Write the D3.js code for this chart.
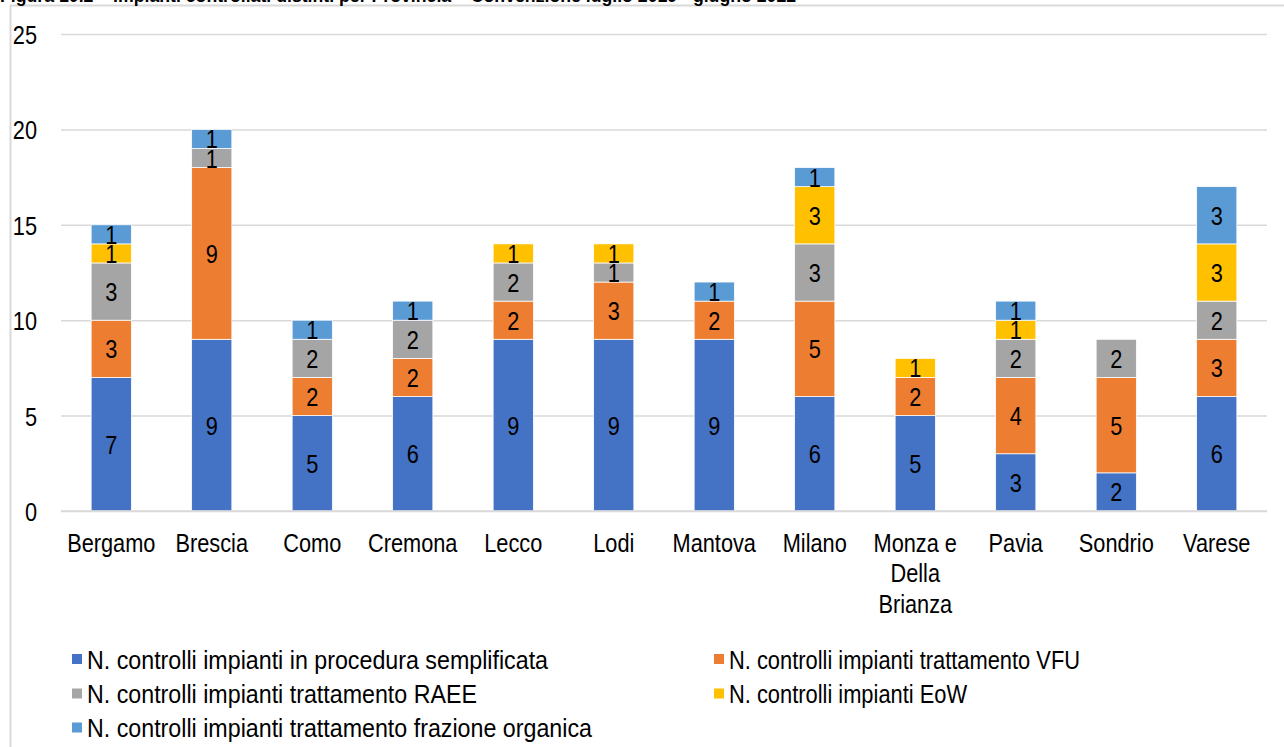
<!DOCTYPE html>
<html>
<head>
<meta charset="utf-8">
<script src="https://cdn.jsdelivr.net/npm/d3@7"></script>
<style>
  html, body { margin: 0; padding: 0; background: #fff; overflow: hidden; }
  svg { display: block; font-family: "Liberation Sans", Arial, sans-serif; }
</style>
</head>
<body>
<svg id="chart" width="1284" height="747"></svg>
<script>
const title = "Figura 10.2 – Impianti controllati distinti per Provincia – Convenzione luglio 2019 - giugno 2022";
const categories = ["Bergamo", "Brescia", "Como", "Cremona", "Lecco", "Lodi", "Mantova", "Milano", "Monza e Della Brianza", "Pavia", "Sondrio", "Varese"];
const seriesNames = [
  "N. controlli impianti in procedura semplificata",
  "N. controlli impianti trattamento VFU",
  "N. controlli impianti trattamento RAEE",
  "N. controlli impianti EoW",
  "N. controlli impianti trattamento frazione organica"
];
const semplificata = [7, 9, 5, 6, 9, 9, 9, 6, 5, 3, 2, 6];
const vfu          = [3, 9, 2, 2, 2, 3, 2, 5, 2, 4, 5, 3];
const raee         = [3, 1, 2, 2, 2, 1, 0, 3, 0, 2, 2, 2];
const eow          = [1, 0, 0, 0, 1, 1, 0, 3, 1, 1, 0, 3];
const organica     = [1, 1, 1, 1, 0, 0, 1, 1, 0, 1, 0, 3];
const seriesValues = [semplificata, vfu, raee, eow, organica];
const seriesColors = ["#4472C4", "#ED7D31", "#A5A5A5", "#FFC000", "#5B9BD5"];
const yTicks = [0, 5, 10, 15, 20, 25];

(function () {
const SX = 0.87;
const FS = 25;
const svg = d3.select("#chart");

// frame
svg.append("line").attr("x1", 10).attr("x2", 1284).attr("y1", 5.5).attr("y2", 5.5)
  .attr("stroke", "#d9d9d9").attr("stroke-width", 2);
svg.append("line").attr("x1", 10.5).attr("x2", 10.5).attr("y1", 5).attr("y2", 747)
  .attr("stroke", "#d9d9d9").attr("stroke-width", 2);

// title (clipped at top, as in the reference)
svg.append("text").attr("x", 0).attr("y", 2)
  .attr("font-size", 17.7).attr("font-weight", "bold").attr("fill", "#000")
  .text(title);

const mLeft = 61, mRight = 1267, mTop = 34, mBottom = 511;
const x = d3.scaleBand().domain(categories).range([mLeft, mRight]).paddingInner(0.6).paddingOuter(0.3);
const y = d3.scaleLinear().domain([0, 25]).range([mBottom, mTop]);

// grid + y axis
const gy = svg.append("g").attr("transform", `translate(${mLeft},0)`)
  .call(d3.axisLeft(y).tickValues(yTicks).tickSize(-(mRight - mLeft)).tickSizeOuter(0));
gy.select(".domain").remove();
gy.selectAll(".tick line").attr("stroke", "#d9d9d9").attr("stroke-width", 1.5);
gy.selectAll(".tick text")
  .attr("x", 0).attr("dy", null)
  .attr("dominant-baseline", "central")
  .attr("text-anchor", "end")
  .attr("font-size", FS).attr("fill", "#000")
  .attr("font-family", "'Liberation Sans', Arial, sans-serif")
  .attr("transform", `translate(-24,1) scale(${SX},1)`);

// stacked data
const rows = categories.map((c, i) => {
  const o = { cat: c };
  seriesValues.forEach((s, k) => o["s" + k] = s[i]);
  return o;
});
const keys = seriesValues.map((_, k) => "s" + k);
const stacked = d3.stack().keys(keys)(rows);

const layers = svg.append("g").selectAll("g").data(stacked).join("g")
  .attr("fill", (d, k) => seriesColors[k]);
layers.selectAll("rect").data(d => d.filter(p => p[1] - p[0] > 0)).join("rect")
  .attr("x", d => x(d.data.cat))
  .attr("width", x.bandwidth())
  .attr("y", d => y(d[1]))
  .attr("height", d => y(d[0]) - y(d[1]))
  .attr("stroke", "#ffffff").attr("stroke-width", 0.75);

// value labels
const lab = svg.append("g");
stacked.forEach((layer, k) => {
  layer.forEach(p => {
    const v = p[1] - p[0];
    if (v <= 0) return;
    lab.append("text")
      .attr("text-anchor", "middle")
      .attr("dominant-baseline", "central")
      .attr("font-size", FS).attr("fill", "#000")
      .attr("transform", `translate(${x(p.data.cat) + x.bandwidth() / 2},${(y(p[0]) + y(p[1])) / 2 + 1}) scale(${SX},1)`)
      .text(v);
  });
});

// x axis labels
const gx = svg.append("g").attr("transform", `translate(0,${mBottom})`)
  .call(d3.axisBottom(x).tickSize(0).tickSizeOuter(0));
gx.select(".domain").remove();
gx.selectAll(".tick text").each(function (d) {
  const t = d3.select(this);
  t.text(null).attr("y", null).attr("dy", null)
    .attr("font-size", FS).attr("fill", "#000")
    .attr("font-family", "'Liberation Sans', Arial, sans-serif")
    .attr("text-anchor", "middle")
    .attr("transform", `translate(0,41) scale(${SX},1)`);
  const words = d.split(" ");
  const maxW = x.step() * 0.92 / SX;
  let lines = [], cur = [];
  const probe = t.append("tspan");
  words.forEach(w => {
    const test = cur.concat([w]).join(" ");
    probe.text(test);
    if (probe.node().getComputedTextLength() > maxW && cur.length) {
      lines.push(cur.join(" "));
      cur = [w];
    } else cur.push(w);
  });
  lines.push(cur.join(" "));
  probe.remove();
  lines.forEach((ln, i) => {
    t.append("tspan").attr("x", 0).attr("y", i * 30.5).text(ln);
  });
});

// baseline axis line
svg.append("line").attr("x1", mLeft).attr("x2", mRight).attr("y1", y(0)).attr("y2", y(0))
  .attr("stroke", "#d9d9d9").attr("stroke-width", 1.5);

// legend
const legPos = [[72, 659, 0.93], [714, 659, 0.875], [72, 693.5, 0.93], [714, 693.5, 0.875], [72, 727.5, 0.93]];
const leg = svg.append("g");
seriesNames.forEach((name, k) => {
  const [lx, ly, s] = legPos[k];
  leg.append("rect").attr("x", lx).attr("y", ly - 5).attr("width", 10).attr("height", 10)
    .attr("fill", seriesColors[k]);
  leg.append("text")
    .attr("dominant-baseline", "central")
    .attr("font-size", FS).attr("fill", "#000")
    .attr("transform", `translate(${lx + 15},${ly + 1}) scale(${s},1)`)
    .text(name);
});
})();
</script>
</body>
</html>
